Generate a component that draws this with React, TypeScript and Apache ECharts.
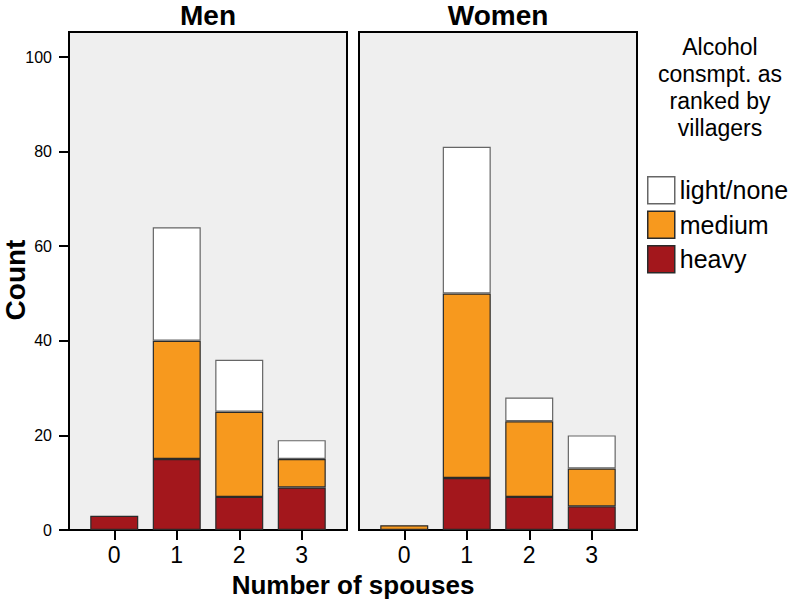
import React, { useEffect, useRef } from "react";
import * as echarts from "echarts";

const categories = ["0", "1", "2", "3"];
const panels = ["Men", "Women"];
const levels = ["heavy", "medium", "light/none"];
const legendOrder = ["light/none", "medium", "heavy"];
const legendTitleLines = ["Alcohol", "consmpt. as", "ranked by", "villagers"];

const menHeavy = [3, 15, 7, 9];
const menMedium = [0, 25, 18, 6];
const menLight = [0, 24, 11, 4];
const womenHeavy = [0, 11, 7, 5];
const womenMedium = [1, 39, 16, 8];
const womenLight = [0, 31, 5, 7];

const yTicks = [0, 20, 40, 60, 80, 100];

const panelData: number[][][] = [
  [menHeavy, menMedium, menLight],
  [womenHeavy, womenMedium, womenLight],
];

const levelColors: Record<string, string> = {
  heavy: "#a3171c",
  medium: "#f7991e",
  "light/none": "#ffffff",
};
const levelBorders: Record<string, string> = {
  heavy: "#2a2a2a",
  medium: "#2a2a2a",
  "light/none": "#666666",
};

const FONT = '"Liberation Sans", Arial, sans-serif';

export default function App() {
  const ref = useRef<HTMLDivElement>(null);

  useEffect(() => {
    if (!ref.current) return;
    const chart = echarts.init(ref.current, null, { renderer: "svg" });

    const frameLefts = [69, 359];
    const frameWidth = 278;
    const frameTop = 32;
    const frameBottom = 530;
    const inset = 14;
    const yMax = yTicks[yTicks.length - 1];
    const yInterval = yTicks[1] - yTicks[0];
    const barTop = 57;

    const grids: any[] = [];
    const xAxes: any[] = [];
    const yAxes: any[] = [];
    frameLefts.forEach((l, i) => {
      grids.push({
        left: l,
        top: frameTop,
        width: frameWidth,
        height: frameBottom - frameTop,
        show: true,
        backgroundColor: "#efefef",
        borderColor: "#000",
        borderWidth: 2,
        containLabel: false,
      });
      xAxes.push({ type: "value", gridIndex: i, min: 0, max: 1, show: false });
      yAxes.push({ type: "value", gridIndex: i, min: 0, max: 1, show: false });
    });
    frameLefts.forEach((l, i) => {
      grids.push({
        left: l + inset,
        top: barTop,
        width: frameWidth - 2 * inset,
        height: frameBottom - barTop,
        containLabel: false,
      });
      xAxes.push({
        type: "category",
        gridIndex: 2 + i,
        data: categories,
        axisLine: { show: false },
        axisTick: {
          show: true,
          alignWithLabel: true,
          length: 10,
          lineStyle: { color: "#000", width: 2 },
        },
        axisLabel: {
          color: "#000",
          fontSize: 23,
          fontFamily: FONT,
          margin: 13,
        },
        splitLine: { show: false },
      });
      yAxes.push({
        type: "value",
        gridIndex: 2 + i,
        min: 0,
        max: yMax,
        interval: yInterval,
        show: i === 0,
        offset: inset,
        axisLine: { show: false },
        axisTick: {
          show: true,
          length: 10,
          lineStyle: { color: "#000", width: 2 },
        },
        axisLabel: {
          color: "#000",
          fontSize: 16,
          fontFamily: FONT,
          margin: 17,
        },
        splitLine: { show: false },
      });
    });

    const series: any[] = [];
    panels.forEach((p, pi) => {
      levels.forEach((lv, li) => {
        series.push({
          type: "bar",
          name: lv,
          stack: p,
          xAxisIndex: 2 + pi,
          yAxisIndex: 2 + pi,
          barWidth: 48,
          data: panelData[pi][li].map((v) => (v === 0 ? null : v)),
          itemStyle: {
            color: levelColors[lv],
            borderColor: levelBorders[lv],
            borderWidth: 1.2,
          },
          emphasis: { disabled: true },
        });
      });
    });

    const graphics: any[] = [
      {
        type: "text",
        x: frameLefts[0] + frameWidth / 2,
        y: 15,
        style: { text: panels[0], font: `bold 28px ${FONT}`, fill: "#000", align: "center", verticalAlign: "middle" },
      },
      {
        type: "text",
        x: frameLefts[1] + frameWidth / 2,
        y: 15,
        style: { text: panels[1], font: `bold 28px ${FONT}`, fill: "#000", align: "center", verticalAlign: "middle" },
      },
      {
        type: "text",
        x: 353,
        y: 585,
        style: { text: "Number of spouses", font: `bold 26px ${FONT}`, fill: "#000", align: "center", verticalAlign: "middle" },
      },
      {
        type: "text",
        x: 15,
        y: 280,
        rotation: Math.PI / 2,
        style: { text: "Count", font: `bold 28px ${FONT}`, fill: "#000", align: "center", verticalAlign: "middle" },
      },
    ];
    legendTitleLines.forEach((t, i) => {
      graphics.push({
        type: "text",
        x: 720,
        y: 47 + i * 27,
        style: { text: t, font: `23px ${FONT}`, fill: "#000", align: "center", verticalAlign: "middle" },
      });
    });

    const option: any = {
      animation: false,
      backgroundColor: "#ffffff",
      grid: grids,
      xAxis: xAxes,
      yAxis: yAxes,
      series,
      legend: {
        data: legendOrder,
        orient: "vertical",
        left: 642,
        top: 171,
        itemWidth: 27,
        itemHeight: 27,
        itemGap: 6,
        icon: "rect",
        selectedMode: false,
        itemStyle: { borderWidth: 1.5 },
        textStyle: { fontSize: 25, fontFamily: FONT, color: "#000" },
      },
      graphic: graphics,
    };

    chart.setOption(option);
    return () => chart.dispose();
  }, []);

  return (
    <div
      ref={ref}
      style={{ position: "fixed", left: 0, top: 0, width: 793, height: 603 }}
    />
  );
}
